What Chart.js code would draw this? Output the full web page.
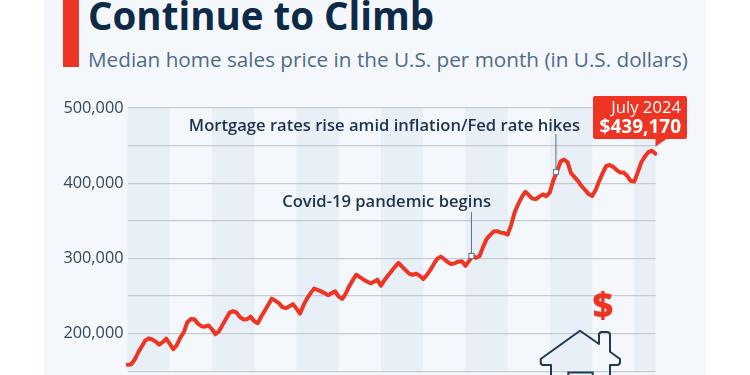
<!DOCTYPE html>
<html>
<head>
<meta charset="utf-8">
<title>Home prices continue to climb</title>
<script src="https://cdn.jsdelivr.net/npm/chart.js"></script>
<style>
  html, body { margin: 0; padding: 0; background: #fff; }
  #page { position: relative; width: 750px; height: 375px; overflow: hidden; font-family: "Open Sans", sans-serif; }
  #panel { position: absolute; left: 44px; top: 0; width: 662px; height: 375px; background: #f4f7fb; }
  #bar { position: absolute; left: 63px; top: 0; width: 16px; height: 67px; background: #ee3524; }
  #title { position: absolute; left: 88px; top: -11px; font-size: 38.5px; line-height: 52px; font-weight: 700; color: #0d2a48; white-space: nowrap; }
  #subtitle { position: absolute; left: 88px; top: 44px; font-size: 20.7px; line-height: 30px; color: #4f6b8a; white-space: nowrap; }
  #chartBox { position: absolute; left: 0; top: 0; width: 750px; height: 375px; }
  #house { position: absolute; left: 0; top: 0; }
  #dollar { position: absolute; left: 592.5px; top: 282px; font-size: 36px; line-height: 46px; font-weight: 800; color: #ee3524; }
</style>
</head>
<body>
<div id="page">
  <div id="panel"></div>
  <div id="bar"></div>
  <div id="title">Continue to Climb</div>
  <div id="subtitle">Median home sales price in the U.S. per month (in U.S. dollars)</div>
  <div id="chartBox"><canvas id="priceChart" width="750" height="375"></canvas></div>
  <svg id="house" width="750" height="375">
    <path d="M551 378 V365 H543 Q540.7 365 540.7 362 V359 L580 330.7 L599 344 V335 Q599 332 602 332 H607 Q610 332 610 335 V351.7 L620 359 V362 Q620 365 617 365 H610 V378" fill="none" stroke="#1f3a56" stroke-width="2" stroke-linejoin="round"/>
    <path d="M568.3 378 V372.5 H592.7 V378" fill="none" stroke="#1f3a56" stroke-width="2"/>
  </svg>
  <div id="dollar">$</div>
</div>
<script>
// monthly median price, Jan 2012 - Jul 2024
const prices = [
  158900, 159100, 165400, 174700, 182800, 190800, 194000, 192400, 189800, 185500, 188800, 193400,
  186800, 179500, 184800, 194800, 202000, 215400, 219600, 219400, 213400, 210000, 209400, 211100,
  206000, 199400, 203400, 211800, 220000, 228000, 230000, 228000, 222000, 219000, 219400, 222700,
  216700, 214000, 223000, 230700, 238700, 246700, 244000, 240700, 235400, 234000, 236700, 239400,
  233400, 226700, 238000, 246700, 254000, 260000, 258300, 256300, 254000, 251300, 254000, 256300,
  249300, 246300, 253400, 263300, 271200, 278600, 275200, 272200, 269500, 267000, 269200, 271900,
  263900, 271200, 277500, 283200, 289200, 294200, 289200, 284500, 279900, 278200, 279900, 277200,
  272600, 277900, 284500, 292500, 299800, 302500, 299000, 295200, 292500, 293900, 295800, 296500,
  290300, 296500, 303500, 301000, 303000, 315100, 325800, 331100, 335800, 336400, 334400, 333800,
  331800, 344400, 361700, 372300, 381600, 388700, 384300, 379600, 378900, 382300, 385200, 382900,
  388000, 404200, 414900, 428800, 431500, 428200, 413600, 408200, 402900, 396300, 391000, 385600,
  383000, 391000, 402900, 413600, 422900, 424200, 421500, 417500, 414200, 414200, 409600, 402900,
  402200, 414900, 428200, 435500, 441500, 443200, 439170
];
const firstYear = 2012;
const monthLabels = prices.map((p, i) => (firstYear + Math.floor(i / 12)) + '-' + String(i % 12 + 1).padStart(2, '0'));
const shadedYears = [2012, 2014, 2016, 2018, 2020, 2022, 2024];
const labelledTicks = [200000, 300000, 400000, 500000];

const covidMonth = '2020-03';
const covidText = 'Covid-19 pandemic begins';
const hikesMonth = '2022-03';
const hikesText = 'Mortgage rates rise amid inflation/Fed rate hikes';
const lastMonthText = 'July 2024';
const lastPriceText = '$439,170';

const red = '#ee3524';
const navy = '#1c3350';

// year bands, drawn before the gridlines
const bandsPlugin = {
  id: 'bands',
  beforeDraw(chart) {
    const { ctx, chartArea, scales } = chart;
    ctx.save();
    ctx.fillStyle = '#e9eff6';
    shadedYears.forEach((yr) => {
      const from = scales.x.getPixelForValue(monthLabels.indexOf(yr + '-01'));
      const endIdx = monthLabels.indexOf((yr + 1) + '-01');
      const to = endIdx < 0 ? chartArea.right : scales.x.getPixelForValue(endIdx);
      ctx.fillRect(from, chartArea.top, to - from, chartArea.height);
    });
    ctx.restore();
  }
};

function drawLeader(ctx, chart, month, topY, textRight, baseY, text) {
  const i = monthLabels.indexOf(month);
  const x = chart.scales.x.getPixelForValue(i) - 1;
  const y = chart.scales.y.getPixelForValue(prices[i]);
  ctx.strokeStyle = '#5b6f85';
  ctx.lineWidth = 1;
  ctx.beginPath();
  ctx.moveTo(x, topY);
  ctx.lineTo(x, y);
  ctx.stroke();
  ctx.fillStyle = '#fff';
  ctx.fillRect(x - 2.5, y - 2.5, 5, 5);
  ctx.strokeRect(x - 2.5, y - 2.5, 5, 5);
  ctx.fillStyle = navy;
  ctx.font = '600 16.6px "Open Sans"';
  ctx.textAlign = 'right';
  ctx.textBaseline = 'alphabetic';
  ctx.fillText(text, textRight, baseY);
}

const notesPlugin = {
  id: 'notes',
  afterDatasetsDraw(chart) {
    const { ctx, scales } = chart;
    ctx.save();
    drawLeader(ctx, chart, covidMonth, 212, 491, 207, covidText);
    drawLeader(ctx, chart, hikesMonth, 134, 580, 131, hikesText);

    // callout for the last point
    const last = prices.length - 1;
    const px = scales.x.getPixelForValue(last);
    const py = scales.y.getPixelForValue(prices[last]);
    ctx.fillStyle = red;
    ctx.beginPath();
    ctx.roundRect(593, 96, 94, 43, 2);
    ctx.fill();
    ctx.beginPath();
    ctx.moveTo(px, 139);
    ctx.lineTo(px + 11, 139);
    ctx.lineTo(px, py - 7);
    ctx.closePath();
    ctx.fill();
    ctx.fillStyle = '#fff';
    ctx.textAlign = 'right';
    ctx.font = '400 16.7px "Open Sans"';
    ctx.fillText(lastMonthText, 681, 113);
    ctx.font = '700 19px "Open Sans"';
    ctx.fillText(lastPriceText, 681, 133);
    ctx.restore();
  }
};

new Chart(document.getElementById('priceChart'), {
  type: 'line',
  data: {
    labels: monthLabels,
    datasets: [{
      data: prices,
      borderColor: red,
      borderWidth: 4,
      pointRadius: 0,
      tension: 0,
      borderJoinStyle: 'round',
      borderCapStyle: 'round'
    }]
  },
  options: {
    responsive: false,
    animation: false,
    layout: { padding: { top: 108, right: 94.5, bottom: 3.6, left: 0 } },
    plugins: { legend: { display: false }, tooltip: { enabled: false } },
    scales: {
      x: {
        display: false,
        offset: false,
        grid: { display: false }
      },
      y: {
        min: 150000,
        max: 500000,
        // no room kept for the half height of the end labels
        afterFit(scale) { scale.width = 127.5; scale.paddingTop = 0; scale.paddingBottom = 0; },
        border: { display: false },
        grid: { color: '#c6ccd3', lineWidth: 1.3, drawTicks: false },
        ticks: {
          stepSize: 50000,
          padding: 4,
          color: '#33475f',
          font: { family: '"Open Sans"', size: 16.3 },
          callback(v) { return labelledTicks.includes(v) ? v.toLocaleString('en-US') : ''; }
        }
      }
    }
  },
  plugins: [bandsPlugin, notesPlugin]
});
</script>
</body>
</html>
